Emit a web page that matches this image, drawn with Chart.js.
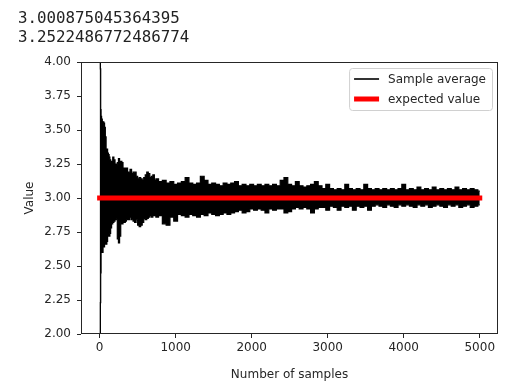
<!DOCTYPE html>
<html><head><meta charset="utf-8">
<script src="https://cdn.jsdelivr.net/npm/chart.js@4/dist/chart.umd.min.js"></script>
<style>
html,body{margin:0;padding:0;background:#fff;}
#wrap{position:relative;width:513px;height:383px;overflow:hidden;background:#fff;}
#c{position:absolute;left:0;top:0;}
.out{position:absolute;left:18px;font-family:'DejaVu Sans Mono',monospace;font-size:15.8px;color:#222;line-height:20px;white-space:pre;}
</style></head><body>
<div id="wrap">
<canvas id="c" width="513" height="383"></canvas>
<div class="out" id="l1" style="top:7.5px"></div>
<div class="out" id="l2" style="top:27px"></div>
</div>
<script>
// Printed output above the figure
const printedLines = ['3.000875045364395', '3.2522486772486774'];

// Sample-average series: envelope (top and bottom of the noisy band)
const sampleCounts = [0,4,8,12,16,22,30,40,50,60,70,80,90,100,110,120,130,140,150,165,180,195,210,225,240,255,270,285,300,315,330,345,360,375,390,410,430,450,470,490,510,530,550,570,590,610,630,650,670,690,710,730,
750,800,850,900,950,1000,1050,1100,1150,1200,1250,1300,1350,1400,1450,1500,1550,1600,1650,1700,1750,1800,1850,1900,1950,2000,2050,2100,2150,2200,2250,2300,2350,2400,2450,2500,2550,2600,2650,2700,2750,2800,2850,2900,2950,3000,3050,3100,3150,3200,3250,3300,3350,3400,3450,3500,3550,3600,3650,3700,3750,3800,3850,3900,3950,4000,4050,4100,4150,4200,4250,4300,4350,4400,4450,4500,4550,4600,4650,4700,4750,4800,4850,4900,4950,5000];
const upperEnvelope = [5.0,4.80,4.30,3.95,3.65,3.60,3.58,3.50,3.56,3.55,3.52,3.45,3.35,3.36,3.33,3.32,3.30,3.28,3.26,3.27,3.30,3.28,3.25,3.24,3.26,3.29,3.25,3.27,3.26,3.22,3.22,3.21,3.22,3.18,3.19,3.21,3.18,3.19,3.19,3.16,3.14,3.15,3.14,3.13,3.15,3.17,3.19,3.18,3.15,3.16,3.17,3.13,
3.14,3.12,3.13,3.11,3.12,3.10,3.11,3.12,3.15,3.11,3.10,3.11,3.16,3.13,3.10,3.11,3.10,3.09,3.11,3.10,3.11,3.12,3.09,3.10,3.09,3.10,3.09,3.10,3.09,3.10,3.09,3.10,3.09,3.13,3.15,3.10,3.09,3.12,3.09,3.08,3.09,3.10,3.12,3.09,3.07,3.10,3.07,3.06,3.07,3.06,3.10,3.07,3.06,3.07,3.06,3.10,3.07,3.06,3.07,3.06,3.07,3.06,3.07,3.06,3.07,3.10,3.06,3.07,3.06,3.08,3.06,3.07,3.06,3.08,3.06,3.07,3.06,3.07,3.06,3.08,3.06,3.07,3.06,3.07,3.06,3.05];
const lowerEnvelope = [1.0,1.20,1.90,2.23,2.45,2.60,2.62,2.60,2.66,2.64,2.66,2.68,2.66,2.68,2.72,2.73,2.72,2.74,2.78,2.81,2.82,2.83,2.85,2.84,2.70,2.67,2.72,2.82,2.81,2.83,2.82,2.83,2.84,2.85,2.84,2.86,2.84,2.83,2.82,2.84,2.80,2.79,2.80,2.82,2.85,2.84,2.85,2.86,2.87,2.86,2.87,2.87,
2.86,2.87,2.81,2.80,2.86,2.83,2.88,2.87,2.86,2.88,2.87,2.86,2.88,2.87,2.89,2.88,2.87,2.88,2.89,2.88,2.89,2.90,2.91,2.89,2.90,2.92,2.91,2.92,2.91,2.89,2.92,2.91,2.92,2.92,2.89,2.90,2.92,2.93,2.92,2.93,2.92,2.89,2.92,2.93,2.93,2.91,2.94,2.93,2.91,2.94,2.93,2.94,2.91,2.94,2.93,2.94,2.91,2.94,2.95,2.94,2.93,2.95,2.94,2.93,2.95,2.94,2.95,2.94,2.93,2.95,2.94,2.95,2.93,2.94,2.95,2.94,2.93,2.95,2.94,2.95,2.93,2.94,2.95,2.93,2.94,2.95];

// Expected value line
const expectedCounts = [0, 5000];
const expectedValues = [3, 3];

// Axis ticks
const xTicks = [0, 1000, 2000, 3000, 4000, 5000];
const yTicks = [2.00, 2.25, 2.50, 2.75, 3.00, 3.25, 3.50, 3.75, 4.00];

document.getElementById('l1').textContent = printedLines[0];
document.getElementById('l2').textContent = printedLines[1];

const INK = '#262626';
const FONT = '"DejaVu Sans", sans-serif';

const framePlugin = {
  id: 'frameAndLegend',
  afterDatasetsDraw(chart) {
    const {ctx, chartArea: a} = chart;
    ctx.save();
    ctx.strokeStyle = INK;
    ctx.lineWidth = 1;
    ctx.strokeRect(a.left + 0.5, a.top + 0.5, a.right - a.left - 1, a.bottom - a.top - 1);
    ctx.restore();
  },
  afterDraw(chart) {
    const {ctx, chartArea: a} = chart;
    const items = chart.data.datasets.filter(d => !d.legendHidden);
    ctx.save();
    ctx.font = '12px ' + FONT;
    const textW = Math.max(...items.map(d => ctx.measureText(d.label).width));
    const padL = 5, handle = 25, gap = 9, padR = 6;
    const w = padL + handle + gap + textW + padR;
    const right = a.right - 6, left = right - w, top = a.top + 6, h = 42;
    ctx.beginPath();
    ctx.roundRect(left + 0.5, top + 0.5, w, h, 3);
    ctx.fillStyle = 'rgba(255,255,255,0.85)';
    ctx.fill();
    ctx.strokeStyle = '#d0d0d0';
    ctx.lineWidth = 1;
    ctx.stroke();
    items.forEach((d, i) => {
      const y = top + 11 + i * 20;
      ctx.beginPath();
      ctx.moveTo(left + padL, y);
      ctx.lineTo(left + padL + handle, y);
      ctx.strokeStyle = d.borderColor;
      ctx.lineWidth = d.legendLineWidth;
      ctx.lineCap = 'butt';
      ctx.stroke();
      ctx.fillStyle = INK;
      ctx.textBaseline = 'middle';
      ctx.textAlign = 'left';
      ctx.fillText(d.label, left + padL + handle + gap, y + 0.5);
    });
    ctx.restore();
  }
};

const pts = (xs, ys) => xs.map((x, i) => ({x: x, y: ys[i]}));

new Chart(document.getElementById('c'), {
  type: 'line',
  data: {
    datasets: [
      {
        label: 'Sample average',
        data: pts(sampleCounts, upperEnvelope),
        borderColor: '#000', backgroundColor: '#000', borderWidth: 1.2,
        stepped: 'middle',
        pointRadius: 0, fill: '+1', order: 1, clip: 0, legendLineWidth: 1.6
      },
      {
        label: 'Sample average (lower)',
        legendHidden: true,
        data: pts(sampleCounts, lowerEnvelope),
        borderColor: '#000', backgroundColor: '#000', borderWidth: 1.2,
        stepped: 'middle',
        pointRadius: 0, fill: false, order: 2, clip: 0
      },
      {
        label: 'expected value',
        data: pts(expectedCounts, expectedValues),
        borderColor: '#ff0000', borderWidth: 5, borderCapStyle: 'square',
        pointRadius: 0, fill: false, order: 0, legendLineWidth: 5
      }
    ]
  },
  options: {
    responsive: false,
    animation: false,
    events: [],
    layout: {padding: {left: 0, top: 62, right: 15, bottom: 0}},
    plugins: {legend: {display: false}, tooltip: {enabled: false}},
    scales: {
      x: {
        type: 'linear', min: -245, max: 5240,
        afterBuildTicks: s => { s.ticks = xTicks.map(v => ({value: v})); },
        afterFit: s => { s.height = 49; },
        border: {display: false},
        grid: {drawOnChartArea: false, drawTicks: true, tickLength: 4, color: INK, tickColor: INK},
        ticks: {color: INK, font: {family: FONT, size: 12}, padding: 3, maxRotation: 0, callback: v => String(v)},
        title: {display: true, text: 'Number of samples', color: INK, font: {family: FONT, size: 12}, padding: {top: 0, bottom: 1}}
      },
      y: {
        type: 'linear', min: 2, max: 4,
        afterBuildTicks: s => { s.ticks = yTicks.map(v => ({value: v})); },
        afterFit: s => { s.width = 81; },
        border: {display: false},
        grid: {drawOnChartArea: false, drawTicks: true, tickLength: 4, color: INK, tickColor: INK},
        ticks: {color: INK, font: {family: FONT, size: 12}, padding: 6, callback: v => Number(v).toFixed(2)},
        title: {display: true, text: 'Value', color: INK, font: {family: FONT, size: 12}, padding: {top: 23, bottom: 0}}
      }
    }
  },
  plugins: [framePlugin]
});
</script>
</body></html>
